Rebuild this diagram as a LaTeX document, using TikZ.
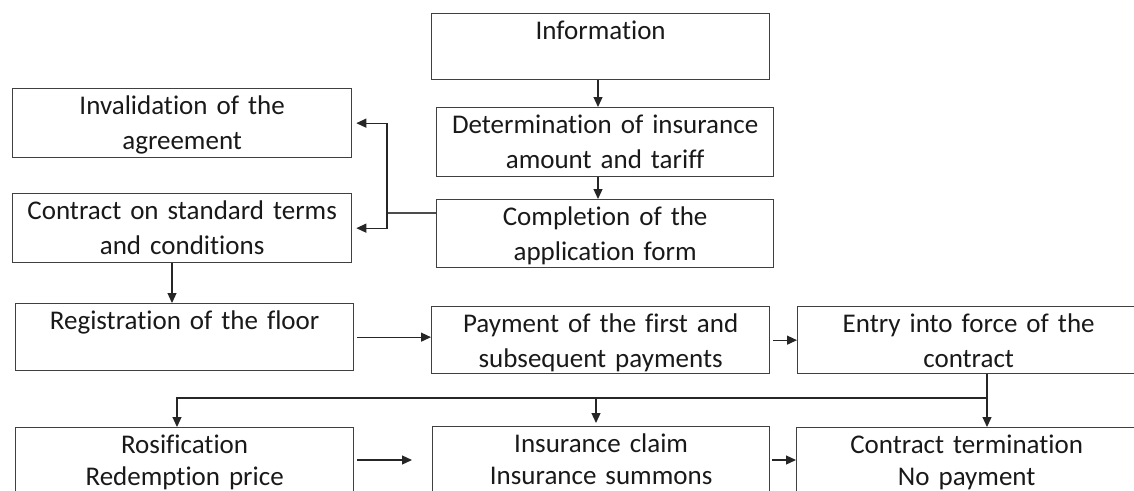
\documentclass[tikz,border=0pt]{standalone}
\usepackage{fontspec}
\setmainfont{Carlito}[Ligatures={NoCommon}]
\usetikzlibrary{arrows.meta}
\begin{document}
\begin{tikzpicture}[x=1pt,y=-1pt,
  box/.style={draw=black!75,line width=1.3pt,anchor=north west,inner sep=0pt,
    align=center,text height=26pt,font=\fontsize{27}{35}\selectfont,text=black!90},
  lowbox/.style={box,font=\fontsize{27}{32}\selectfont},
  arr/.style={draw=black!85,line width=1.2pt,-{Triangle[length=10pt,width=9pt]}},
  ln/.style={draw=black!70,line width=1.1pt}]
\useasboundingbox (0,0) rectangle (1134,490);
\clip (0,0) rectangle (1134,490);
% boxes
\node[box,text width=338pt,text depth=40pt] (info) at (431,13) {Information};
\node[box,text width=337pt,text depth=43pt] (det) at (436,107) {Determination of insurance\\amount and tariff};
\node[box,text width=337pt,text depth=42pt] (comp) at (436,199) {Completion of the\\application form};
\node[box,text width=339pt,text depth=43pt] (inv) at (12,88) {Invalidation of the\\agreement};
\node[box,text width=339pt,text depth=43pt] (std) at (12,193) {Contract on standard terms\\and conditions};
\node[box,text width=338pt,text depth=41pt] (reg) at (15,303) {Registration of the floor};
\node[box,text width=338pt,text depth=41pt] (pay) at (431,306) {Payment of the first and\\subsequent payments};
\node[box,text width=342pt,text depth=41pt] (entry) at (797,306) {Entry into force of the\\contract};
\node[lowbox,text width=338pt,text depth=50pt] (ros) at (15,427) {Rosification\\Redemption price};
\node[lowbox,text width=337pt,text depth=50pt] (claim) at (432,426) {Insurance claim\\Insurance summons};
\node[lowbox,text width=340pt,text depth=50pt] (term) at (796,427) {Contract termination\\No payment};
% helper coordinates
\coordinate (a) at (598,0);
\coordinate (j) at (387,213);
\coordinate (c1) at (172,0);
\coordinate (bus) at (987,398);
\coordinate (r) at (177,0);
\coordinate (m) at (596,0);
% connectors
\draw[arr] (info.south -| a) -- (det.north -| a);
\draw[arr] (det.south -| a) -- (comp.north -| a);
\draw[ln] (comp.west |- j) -- (j);
\draw[arr,shorten >=4pt] (j) |- (inv.east);
\draw[arr,shorten >=4pt] (j) |- (std.east);
\draw[arr] (std.south -| c1) -- (reg.north -| c1);
\draw[arr,shorten <=3pt] (reg.east) -- (reg.east -| pay.west);
\draw[arr,shorten <=3pt] (pay.east) -- (pay.east -| entry.west);
\draw[arr] (entry.south -| bus) -- (term.north -| bus);
\draw[arr] (bus) -- (bus -| r) -- (ros.north -| r);
\draw[arr,shorten >=3pt] (bus -| m) -- (claim.north -| m);
\draw[arr,shorten <=3pt,shorten >=20pt] (ros.east |- 0,460) -- (claim.west |- 0,460);
\draw[arr,shorten <=2pt] (claim.east |- 0,460) -- (term.west |- 0,460);
\end{tikzpicture}
\end{document}
